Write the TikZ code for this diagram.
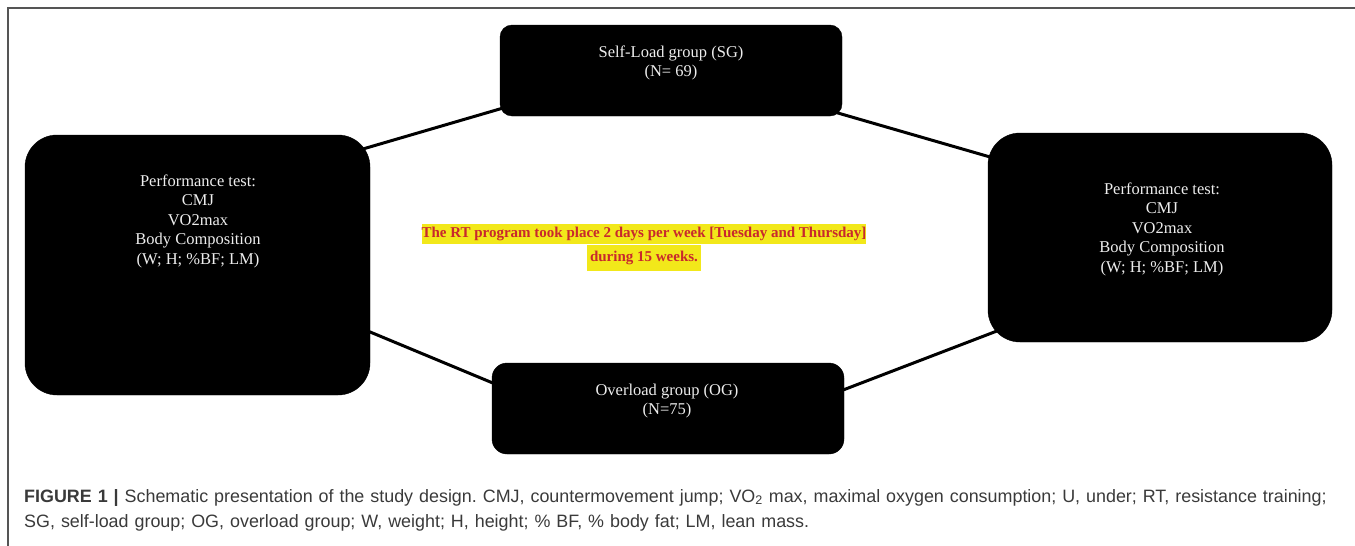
\documentclass[tikz,border=0pt]{standalone}
\usepackage{fontspec}
\setmainfont{Liberation Serif}
\setsansfont{Liberation Sans}
\usepackage{xcolor}
\usetikzlibrary{backgrounds,calc}
\definecolor{hl}{HTML}{F2E81A}
\definecolor{rtred}{HTML}{C8282D}
\definecolor{capgray}{HTML}{3A3A3A}
\definecolor{framegray}{HTML}{555555}
\tikzset{
  blackbox/.style={draw=black, fill=black, inner sep=0pt},
  boxtext/.style={text=white!93!black, align=center, font=\fontsize{16.5}{19.5}\selectfont, inner sep=0pt},
  link/.style={line width=3pt, black},
}
\frenchspacing
\begin{document}
\begin{tikzpicture}[x=1pt,y=-1pt]
\useasboundingbox (0,0) rectangle (1355,546);
% frame
\draw[framegray, line width=1.2pt] (8,546) -- (8,8) -- (1355,8);
% boxes
\node[blackbox, rounded corners=12pt, minimum width=342pt, minimum height=91pt] (SG) at (671,70.5) {};
\node[blackbox, rounded corners=15pt, minimum width=352pt, minimum height=91pt] (OG) at (668,408.5) {};
\node[blackbox, rounded corners=32pt, minimum width=345pt, minimum height=260pt] (L) at (197.5,265) {};
\node[blackbox, rounded corners=32pt, minimum width=344pt, minimum height=209pt] (R) at (1160,237.5) {};
% texts
\node[boxtext] (SGt) at (671,63) {Self-Load group (SG)\\(N= 69)};
\node[boxtext] (OGt) at (667,401) {Overload group (OG)\\(N=75)};
\node[boxtext] (Lt) at (198,221) {Performance test:\\CMJ\\VO2max\\Body Composition\\(W; H; \%BF; LM)};
\node[boxtext] (Rt) at (1162,229) {Performance test:\\CMJ\\VO2max\\Body Composition\\(W; H; \%BF; LM)};
\node[align=center, inner sep=0pt, text=rtred, font=\bfseries\fontsize{15}{20}\selectfont] (C) at (644,247)
  {\setlength{\fboxsep}{0pt}\colorbox{hl}{\strut The RT program took place 2 days per week [Tuesday and Thursday]}\\\colorbox{hl}{\strut during 15 weeks.}};
% connector end points inside the boxes
\coordinate (l1) at ($(L.center)+(157.5,-113.7)$);
\coordinate (s1) at ($(SG.center)+(-161,35.5)$);
\coordinate (s2) at ($(SG.center)+(161,40.8)$);
\coordinate (r1) at ($(R.center)+(-163,-78.5)$);
\coordinate (l2) at ($(L.center)+(157.5,60.7)$);
\coordinate (o1) at ($(OG.center)+(-168,-22.5)$);
\coordinate (o2) at ($(OG.center)+(168,-15.8)$);
\coordinate (r2) at ($(R.center)+(-156,90.8)$);
\begin{scope}[on background layer]
\draw[link] (l1) -- (s1);
\draw[link] (s2) -- (r1);
\draw[link] (l2) -- (o1);
\draw[link] (o2) -- (r2);
\end{scope}
% caption
\node[anchor=north west, align=left, inner sep=0pt, text=capgray, font=\sffamily\fontsize{17.9}{25.5}\selectfont, text width=1330pt] (cap) at (24,489)
  {\textbf{FIGURE 1 |} Schematic presentation of the study design. CMJ, countermovement jump; VO\textsubscript{2} max, maximal oxygen consumption; U, under; RT, resistance training;\\SG, self-load group; OG, overload group; W, weight; H, height; \% BF, \% body fat; LM, lean mass.};
\end{tikzpicture}
\end{document}
